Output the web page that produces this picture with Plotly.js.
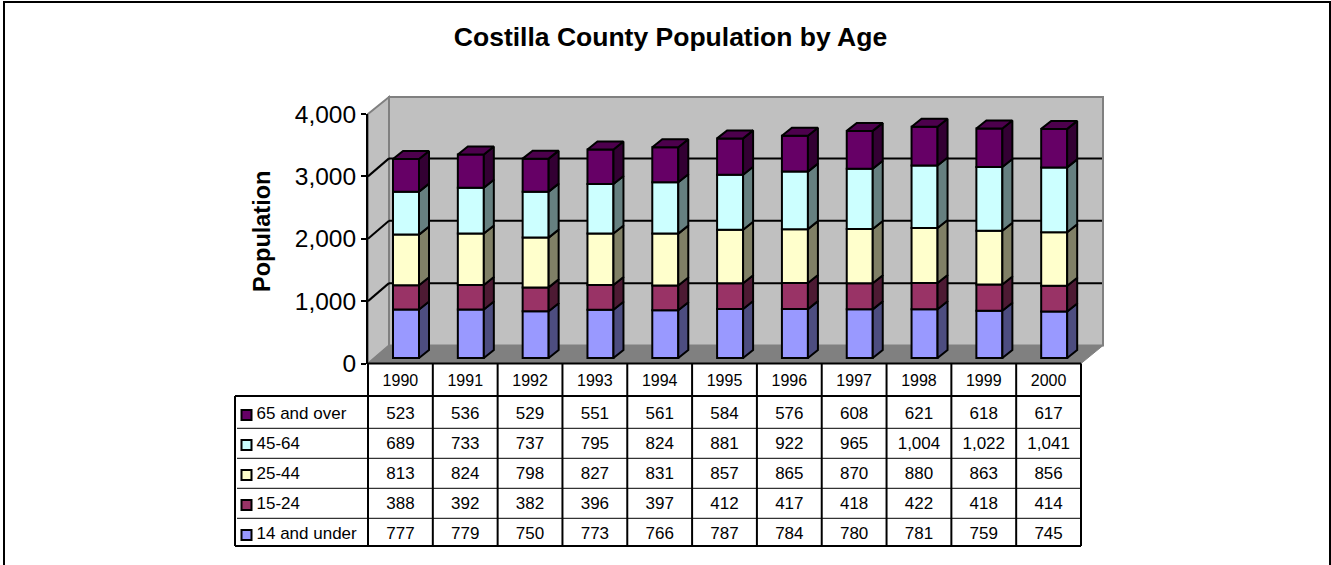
<!DOCTYPE html>
<html>
<head>
<meta charset="utf-8">
<script src="https://cdn.plot.ly/plotly-3.0.1.min.js"></script>
<style>html,body{margin:0;padding:0;background:#fff;overflow:hidden}</style>
</head>
<body>
<div id="chart" style="width:1331px;height:565px"></div>
<script>
const years = [1990,1991,1992,1993,1994,1995,1996,1997,1998,1999,2000];
const under14 = [777,779,750,773,766,787,784,780,781,759,745];
const age15to24 = [388,392,382,396,397,412,417,418,422,418,414];
const age25to44 = [813,824,798,827,831,857,865,870,880,863,856];
const age45to64 = [689,733,737,795,824,881,922,965,1004,1022,1041];
const over65 = [523,536,529,551,561,584,576,608,621,618,617];
const seriesNames = ['14 and under','15-24','25-44','45-64','65 and over'];
const seriesValues = [under14, age15to24, age25to44, age45to64, over65];
const frontColors = ['#9999FF','#993366','#FFFFCC','#CCFFFF','#660066'];
const sideColors = ['#4D4D80','#4D1A33','#808066','#668080','#330033'];
const topColor = '#4D004D';
const yTicks = [0,1000,2000,3000,4000];

const W = 1331, H = 565;
const FONT = 'Liberation Sans, Arial, sans-serif';
const axL = 368, axR = 1081, axT = 114, axB = 363.5;
const wallDX = 21, wallDY = 18;
const colW = (axR-axL)/years.length;
const pxPerUnit = (axB-axT)/4000;
const px = v => v/W, py = v => 1-v/H;
const yPix = v => axB - v*pxPerUnit;

// bar geometry in axis units
const barW = 26/colW, barOff = -13/colW + 5.6/colW;
const depthX = 10/colW, depthY = 8/pxPerUnit;
const floorLift = 5.5/pxPerUnit;

const traces = [];
let cum = years.map(()=>floorLift);
const sidePolys = [];
seriesValues.forEach((vals,k)=>{
  traces.push({type:'bar',x:years,y:vals,base:cum.slice(),width:barW,offset:barOff,
    marker:{color:frontColors[k],line:{color:'#000',width:2}},name:seriesNames[k],showlegend:false,cliponaxis:false});
  const xs=[],ys=[];
  years.forEach((yr,i)=>{
    const xr=yr+barOff+barW, b=cum[i], t=cum[i]+vals[i];
    xs.push(xr,xr+depthX,xr+depthX,xr,xr,null);
    ys.push(b,b+depthY,t+depthY,t,b,null);
  });
  sidePolys.push({x:xs,y:ys,color:sideColors[k]});
  cum = cum.map((c,i)=>c+vals[i]);
});
sidePolys.forEach(p=>traces.push({type:'scatter',mode:'lines',x:p.x,y:p.y,fill:'toself',fillcolor:p.color,
  line:{color:'#000',width:2},showlegend:false,hoverinfo:'skip',cliponaxis:false}));
{
  const xs=[],ys=[];
  years.forEach((yr,i)=>{
    const xl=yr+barOff,xr=xl+barW,t=cum[i];
    xs.push(xl,xl+depthX,xr+depthX,xr,xl,null);
    ys.push(t,t+depthY,t+depthY,t,t,null);
  });
  traces.push({type:'scatter',mode:'lines',x:xs,y:ys,fill:'toself',fillcolor:topColor,
    line:{color:'#000',width:2},showlegend:false,hoverinfo:'skip',cliponaxis:false});
}

// table (rows counted from the bottom; row 0 centred near y=534, 30 px per row)
const rowPx = 30, row0 = 535;
const tblTop = 396, tblBot = 546, tblLeft = 235;
const yr2 = p => (row0-p)/rowPx;
seriesValues.forEach((vals,k)=>{
  traces.push({type:'scatter',mode:'text',xaxis:'x',yaxis:'y2',x:years,y:years.map(()=>k),
    text:vals.map(v=>v.toLocaleString('en-US')),textposition:'middle center',
    textfont:{family:FONT,size:17,color:'#000'},
    showlegend:false,hoverinfo:'skip',cliponaxis:false});
  traces.push({type:'scatter',mode:'markers',xaxis:'x2',yaxis:'y2',x:[246.5],y:[k],
    marker:{symbol:'square',size:10,color:frontColors[k],line:{color:'#000',width:2}},
    showlegend:false,hoverinfo:'skip',cliponaxis:false});
  traces.push({type:'scatter',mode:'text',xaxis:'x2',yaxis:'y2',x:[256.5],y:[k],
    text:[seriesNames[k]],textposition:'middle right',
    textfont:{family:FONT,size:17,color:'#000'},
    showlegend:false,hoverinfo:'skip',cliponaxis:false});
});

// walls, floor, gridlines and table rules
const shapes = [];
const poly = (pts,fill,lineColor,lw) => shapes.push({type:'path',xref:'paper',yref:'paper',layer:'below',
  path:'M'+pts.map(p=>px(p[0])+','+py(p[1])).join(' L')+' Z',fillcolor:fill,line:{color:lineColor,width:lw}});
const seg = (x0,y0,x1,y1,color,w,layer) => shapes.push({type:'line',xref:'paper',yref:'paper',layer:layer||'below',
  x0:px(x0),y0:py(y0),x1:px(x1),y1:py(y1),line:{color:color,width:w}});
const backL = axL+wallDX, backR = axR+22;
poly([[backL,axT-wallDY+1],[backR,axT-wallDY+1],[backR,axB-wallDY],[backL,axB-wallDY]],'#C0C0C0','#808080',2);
poly([[axL,axT],[backL,axT-wallDY+1],[backL,axB-wallDY],[axL,axB]],'#C0C0C0','#808080',2);
poly([[axL,axB],[backL,axB-wallDY],[backR,axB-wallDY],[axR,axB]],'#808080','#808080',1);
[1000,2000,3000].forEach(t=>{
  seg(axL,yPix(t),backL,yPix(t)-wallDY,'#000',2);
  seg(backL,yPix(t)-wallDY,backR-1,yPix(t)-wallDY,'#000',2);
});
seg(axL,axB,axR,axB,'#000',2,'above');
for(let i=0;i<=years.length;i++){
  seg(axL+i*colW,axB,axL+i*colW,tblBot,'#000',2,'above');
}
seg(tblLeft,tblTop,axR,tblTop,'#000',2,'above');
seg(tblLeft,tblBot,axR,tblBot,'#000',2,'above');
seg(tblLeft,tblTop,tblLeft,tblBot,'#000',2,'above');
[428.3,458.3,488.3,518.3].forEach(p=>seg(tblLeft+2,p,axR,p,'#000',1,'above'));
// frame of the picture: open at the bottom
seg(4,1,4,H,'#000',2,'above');
seg(3,2,W,2,'#000',2,'above');
seg(1330,1,1330,H,'#000',2,'above');

const layout = {
  width:W,height:H,margin:{l:0,r:0,t:0,b:0},paper_bgcolor:'#fff',plot_bgcolor:'rgba(0,0,0,0)',
  showlegend:false,barmode:'overlay',
  font:{family:FONT,color:'#000'},
  title:{text:'<b>Costilla County Population by Age</b>',x:670.5/W,xanchor:'center',y:1-37/H,yanchor:'middle',
    font:{family:FONT,size:26.5,color:'#000'}},
  xaxis:{domain:[px(axL),px(axR)],range:[years[0]-0.5,years[years.length-1]+0.5],anchor:'y',tickmode:'array',
    tickvals:years,ticktext:years.map(String),ticks:'outside',ticklen:2,tickcolor:'rgba(0,0,0,0)',showgrid:false,zeroline:false,
    showline:false,tickfont:{size:16,family:FONT}},
  yaxis:{domain:[py(axB),py(axT)],range:[0,4000],anchor:'x',tickmode:'array',tickvals:yTicks,
    ticktext:yTicks.map(v=>v.toLocaleString('en-US')),ticks:'outside',ticklen:5,tickwidth:2,tickcolor:'#000',
    showline:true,linecolor:'#000',linewidth:2,showgrid:false,zeroline:false,
    tickfont:{size:24.5,family:FONT}},
  xaxis2:{domain:[px(tblLeft),px(axL)],range:[tblLeft,axL],anchor:'y2',visible:false,fixedrange:true},
  yaxis2:{domain:[py(tblBot),py(tblTop)],range:[yr2(tblBot),yr2(tblTop)],anchor:'x',visible:false,fixedrange:true},
  annotations:[{text:'<b>Population</b>',xref:'paper',yref:'paper',x:px(262),y:py(232),xanchor:'center',yanchor:'middle',
    textangle:-90,showarrow:false,font:{family:FONT,size:23.5,color:'#000'}}],
  shapes:shapes
};
Plotly.newPlot('chart',traces,layout,{displayModeBar:false,staticPlot:true});
</script>
</body>
</html>
